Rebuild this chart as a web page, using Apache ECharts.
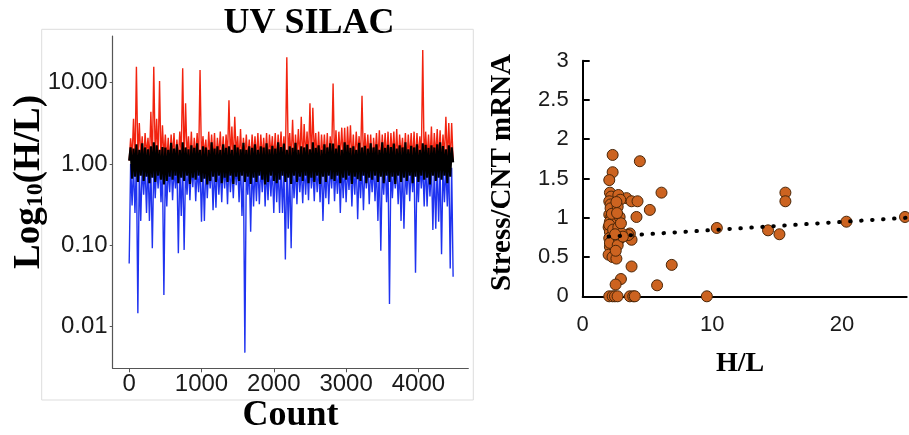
<!DOCTYPE html>
<html><head><meta charset="utf-8">
<script src="https://cdn.jsdelivr.net/npm/echarts@6/dist/echarts.min.js"></script>
<style>html,body{margin:0;padding:0;background:#fff}#c{width:909px;height:435px}</style>
</head><body><div id="c"></div>
<script>
// ---------- Left panel: UV SILAC, H/L ratio along protein count ----------
const countStep = 20; // samples drawn every 20 counts (index-based)
const redHL = [
1.1,2.07,1.2,3.6,1.0,15.7,1.1,3.2,1.2,2.2,1.0,2.4,1.3,2.1,1.1,
4.4,1.0,15.7,1.2,3.6,1.1,10.5,1.0,3.0,1.2,2.3,1.1,2.1,1.0,2.3,
1.2,2.4,1.0,2.0,1.1,2.5,1.3,15.0,1.0,5.6,1.2,2.2,1.1,2.5,1.0,
2.1,1.2,2.4,1.0,14.3,1.1,2.2,1.3,2.0,1.0,2.5,1.2,2.3,1.1,2.4,
1.0,2.1,1.2,2.5,1.1,2.2,1.0,2.3,1.2,6.1,1.1,2.9,1.0,3.8,1.3,
2.2,1.1,2.7,1.0,2.1,1.2,2.3,1.1,2.0,1.0,2.3,1.2,2.2,1.1,2.4,
1.0,2.3,1.2,2.1,1.1,2.4,1.0,2.3,1.3,2.2,1.1,2.4,1.0,2.3,1.2,
2.5,1.1,2.2,1.0,20.5,1.2,2.4,1.1,3.5,1.0,2.3,1.2,2.7,1.1,3.8,
1.0,3.1,1.2,2.5,1.1,5.6,1.0,4.9,1.3,2.4,1.1,2.5,1.0,2.3,1.2,
2.3,1.1,2.4,1.0,2.2,1.2,9.8,1.1,2.6,1.0,2.5,1.2,2.8,1.1,2.8,
1.0,2.9,1.2,3.0,1.1,2.3,1.0,2.5,1.3,2.2,1.1,6.9,1.0,2.4,1.2,
2.3,1.1,2.3,1.0,2.1,1.2,2.4,1.1,2.6,1.0,2.3,1.2,2.4,1.1,2.5,
1.0,2.4,1.2,2.5,1.1,2.7,1.0,2.3,1.3,2.1,1.1,2.4,1.0,2.3,1.2,
2.4,1.1,2.5,1.0,2.4,1.2,2.2,1.1,25.3,1.0,2.5,1.2,2.3,1.1,2.9,
1.0,2.4,1.2,2.7,1.1,2.6,1.0,2.3,1.2,3.8,1.1,3.2,1.0,3.2,1.1
];
const blueHL = [
0.06,1.0,0.31,0.95,0.25,1.05,0.0146,0.9,0.2,1.0,0.42,0.95,0.25,1.1,0.2,
0.9,0.092,1.0,0.38,0.95,0.5,1.05,0.34,0.9,0.0245,1.0,0.30,0.95,0.45,1.1,
0.36,0.9,0.5,1.0,0.080,0.95,0.23,1.05,0.088,0.9,0.42,1.0,0.36,0.95,0.52,
1.1,0.35,0.9,0.45,1.0,0.195,0.95,0.2,1.05,0.38,0.9,0.5,1.0,0.27,0.95,
0.29,1.1,0.42,0.9,0.34,1.0,0.5,0.95,0.32,1.05,0.45,0.9,0.38,1.0,0.55,
0.95,0.34,1.1,0.23,0.9,0.0048,1.0,0.42,0.95,0.147,1.05,0.30,0.9,0.35,1.0,
0.32,0.95,0.45,1.1,0.3,0.9,0.36,1.0,0.4,0.95,0.25,1.05,0.34,0.9,0.25,
1.0,0.25,0.95,0.067,1.1,0.16,0.9,0.092,1.0,0.38,0.95,0.32,1.05,0.45,0.9,
0.33,1.0,0.42,0.95,0.36,1.1,0.5,0.9,0.35,1.0,0.45,0.95,0.34,1.05,0.20,
0.9,0.38,1.0,0.32,0.95,0.5,1.1,0.35,0.9,0.43,1.0,0.25,0.95,0.38,1.05,
0.34,0.9,0.48,1.0,0.3,0.95,0.42,1.1,0.21,0.9,0.38,1.0,0.27,0.95,0.5,
1.05,0.32,0.9,0.45,1.0,0.35,0.95,0.2,1.1,0.086,0.9,0.42,1.0,0.34,0.95,
0.019,1.05,0.38,0.9,0.5,1.0,0.32,0.95,0.2,1.1,0.16,0.9,0.42,1.0,0.35,
0.95,0.45,1.05,0.046,0.9,0.34,1.0,0.5,0.95,0.3,1.1,0.30,0.9,0.4,1.0,
0.155,0.95,0.16,1.05,0.195,0.9,0.078,1.0,0.34,0.95,0.3,1.1,0.052,0.9,0.041
];
const blackHL = [
1.1,1.6,0.66,1.55,0.7,1.75,0.6,1.5,0.72,1.8,0.62,1.6,0.7,1.52,0.58,
1.65,0.68,1.85,0.6,1.7,0.72,1.5,0.64,1.62,0.56,1.6,0.62,1.5,0.7,1.82,
0.64,1.55,0.72,1.75,0.58,1.5,0.68,1.85,0.62,1.6,0.72,1.52,0.57,1.7,0.68,
1.58,0.64,1.8,0.72,1.5,0.6,1.65,0.66,1.6,0.56,1.5,0.62,1.85,0.7,1.55,
0.6,1.65,0.72,1.5,0.58,1.75,0.68,1.58,0.6,1.65,0.72,1.5,0.57,1.72,0.7,
1.6,0.62,1.52,0.72,1.82,0.6,1.5,0.7,1.65,0.57,1.58,0.68,1.75,0.6,1.5,
0.72,1.65,0.64,1.6,0.56,1.8,0.6,1.52,0.72,1.68,0.62,1.55,0.58,1.85,0.64,
1.62,0.72,1.78,0.6,1.5,0.68,1.65,0.57,1.58,0.72,1.82,0.6,1.5,0.7,1.65,
0.62,1.6,0.72,1.75,0.58,1.52,0.68,1.85,0.6,1.58,0.72,1.7,0.57,1.5,0.7,
1.75,0.6,1.6,0.72,1.8,0.65,1.78,0.62,1.55,0.72,1.7,0.58,1.5,0.68,1.85,
0.64,1.72,0.72,1.58,0.57,1.65,0.7,1.5,0.65,1.82,0.62,1.6,0.72,1.68,0.58,
1.55,0.68,1.8,0.64,1.6,0.72,1.75,0.6,1.5,0.7,1.85,0.58,1.58,0.72,1.72,
0.6,1.62,0.7,1.78,0.57,1.55,0.72,1.7,0.6,1.6,0.68,1.85,0.62,1.52,0.72,
1.68,0.58,1.6,0.7,1.75,0.6,1.5,0.72,1.8,0.64,1.72,0.68,1.58,0.56,1.7,
0.72,1.6,0.62,1.75,0.68,1.85,0.64,1.66,0.72,1.52,0.58,1.7,0.7,1.6,1.05
];
const countTicks = [0, 1000, 2000, 3000, 4000];
const hlLogTicks = [0.01, 0.1, 1, 10];

// ---------- Right panel: Stress/CNT mRNA vs H/L ----------
const scatterHL = [2.31,4.41,2.31,2.05,6.08,15.64,15.64,5.18,4.15,10.35,14.3,15.18,20.35,24.87,6.87,5.74,9.58,3.77,2.95,2.54,
2.05,2.31,2.49,2.69,3.64,3.90,4.02,3.38,3.77,4.23,3.77,3.64,3.51,
2.10,2.20,2.05,2.15,2.30,2.05,2.20,2.10,2.00,2.25,2.10,2.30,2.05,2.20,2.35,2.10,2.00,2.30,2.15,2.40,2.25,2.05,2.35,2.10,
2.75,2.90,2.70,2.85,2.75,3.00,2.80,2.70,2.60,2.95,2.65,3.10,2.55,2.60,2.50];
const scatterMRNA = [1.80,1.72,1.58,1.48,1.32,1.32,1.21,1.10,1.01,0.87,0.84,0.79,0.95,1.01,0.40,0.14,0,0.38,0.22,0.15,
0,0,0,0,0,0,0,1.25,1.21,1.21,0.72,0.80,0.78,
1.32,1.27,1.21,1.17,1.10,1.04,1.01,0.95,0.88,0.87,0.82,0.78,0.74,0.70,0.67,0.63,0.53,0.50,1.12,0.93,1.05,0.91,0.85,0.68,
1.29,1.23,1.14,1.01,0.88,0.80,0.72,0.65,0.48,0.93,1.06,0.76,0.58,1.20,0.79];
const trendHL = [2.0, 25];
const trendMRNA = [0.76, 1.0];
const hlTicks = [0, 10, 20];

const log10 = v => Math.log10(v);
const mk = arr => arr.map((v, i) => [i * countStep, log10(v)]);

const SERIF = "'Liberation Serif','Times New Roman',serif";
const SANS = "'Liberation Sans',Arial,sans-serif";

const chart = echarts.init(document.getElementById('c'), null, {renderer: 'canvas'});
chart.setOption({
  animation: false,
  backgroundColor: '#fff',
  grid: [
    {left: 112.7, top: 36, right: 440.7, bottom: 66.7},
    {left: 582.7, top: 60.7, right: 2.3, bottom: 138.7}
  ],
  xAxis: [
    {gridIndex: 0, type: 'value', min: -228, max: 4690,
      axisLine: {onZero: false, lineStyle: {color: '#555', width: 1.2}},
      axisTick: {customValues: countTicks, length: 4, lineStyle: {color: '#555'}},
      axisLabel: {customValues: countTicks, formatter: v => String(v), fontSize: 24, fontFamily: SANS, color: '#1a1a1a', margin: 4},
      splitLine: {show: false}},
    {gridIndex: 1, type: 'value', min: 0, max: 25,
      axisLine: {onZero: false, lineStyle: {color: '#000', width: 2}},
      axisTick: {show: false},
      axisLabel: {customValues: hlTicks, formatter: v => String(v), fontSize: 22, fontFamily: SANS, color: '#1a1a1a', margin: 18},
      splitLine: {show: false}}
  ],
  yAxis: [
    {gridIndex: 0, type: 'value', min: log10(0.00308), max: log10(37.5),
      axisLine: {show: true, onZero: false, lineStyle: {color: '#555', width: 1.2}},
      axisTick: {show: true, customValues: hlLogTicks.map(log10), length: 3, lineStyle: {color: '#555'}},
      axisLabel: {customValues: hlLogTicks.map(log10), formatter: v => Math.pow(10, v).toFixed(2),
        fontSize: 24, fontFamily: SANS, color: '#1a1a1a', margin: 5},
      splitLine: {show: false}},
    {gridIndex: 1, type: 'value', min: 0, max: 3, interval: 0.5,
      axisLine: {show: true, onZero: false, lineStyle: {color: '#000', width: 2}},
      axisTick: {show: true, inside: true, length: 7, lineStyle: {color: '#000', width: 2}},
      axisLabel: {fontSize: 22, fontFamily: SANS, color: '#1a1a1a', margin: 14},
      splitLine: {show: false}}
  ],
  series: [
    {type: 'line', xAxisIndex: 0, yAxisIndex: 0, data: mk(redHL), symbol: 'none', showSymbol: false,
      lineStyle: {color: '#f2230f', width: 1.4}, z: 2},
    {type: 'line', xAxisIndex: 0, yAxisIndex: 0, data: mk(blueHL), symbol: 'none', showSymbol: false,
      lineStyle: {color: '#1f33f0', width: 1.4}, z: 3},
    {type: 'line', xAxisIndex: 0, yAxisIndex: 0, data: mk(blackHL), symbol: 'none', showSymbol: false,
      lineStyle: {color: '#000', width: 2.2}, z: 4},
    {type: 'scatter', xAxisIndex: 1, yAxisIndex: 1, data: scatterHL.map((x, i) => [x, scatterMRNA[i]]),
      symbolSize: 11, itemStyle: {color: '#cc6320', borderColor: '#4a2608', borderWidth: 1, opacity: 1}, z: 3},
    {type: 'line', xAxisIndex: 1, yAxisIndex: 1, data: trendHL.map((x, i) => [x, trendMRNA[i]]),
      symbol: 'none', lineStyle: {color: '#000', width: 4, type: [0.5, 10.5], cap: 'round'}, z: 4}
  ],
  graphic: [
    {type: 'rect', shape: {x: 41.7, y: 29.3, width: 431.6, height: 370.7}, z: -1,
      style: {fill: 'none', stroke: '#dddddd', lineWidth: 1}},
    {type: 'text', x: 309, y: 24, z: 10, style: {text: 'UV SILAC', font: 'bold 36px ' + SERIF, fill: '#000', align: 'center', verticalAlign: 'middle'}},
    {type: 'text', x: 29, y: 182, rotation: Math.PI / 2, z: 10,
      style: {text: '{m|Log}{s|10}{m|(H/L)}', fill: '#000', align: 'center', verticalAlign: 'middle',
        rich: {m: {fontSize: 37, fontWeight: 'bold', fontFamily: SERIF, lineHeight: 37, verticalAlign: 'bottom'},
               s: {fontSize: 24, fontWeight: 'bold', fontFamily: SERIF, lineHeight: 20, verticalAlign: 'bottom'}}}},
    {type: 'text', x: 290.5, y: 416, z: 10, style: {text: 'Count', font: 'bold 36px ' + SERIF, fill: '#000', align: 'center', verticalAlign: 'middle'}},
    {type: 'text', x: 503, y: 172.5, rotation: Math.PI / 2, z: 10,
      style: {text: 'Stress/CNT mRNA', font: 'bold 29px ' + SERIF, fill: '#000', align: 'center', verticalAlign: 'middle'}},
    {type: 'text', x: 740, y: 364, z: 10, style: {text: 'H/L', font: 'bold 28px ' + SERIF, fill: '#000', align: 'center', verticalAlign: 'middle'}}
  ]
});
</script></body></html>
